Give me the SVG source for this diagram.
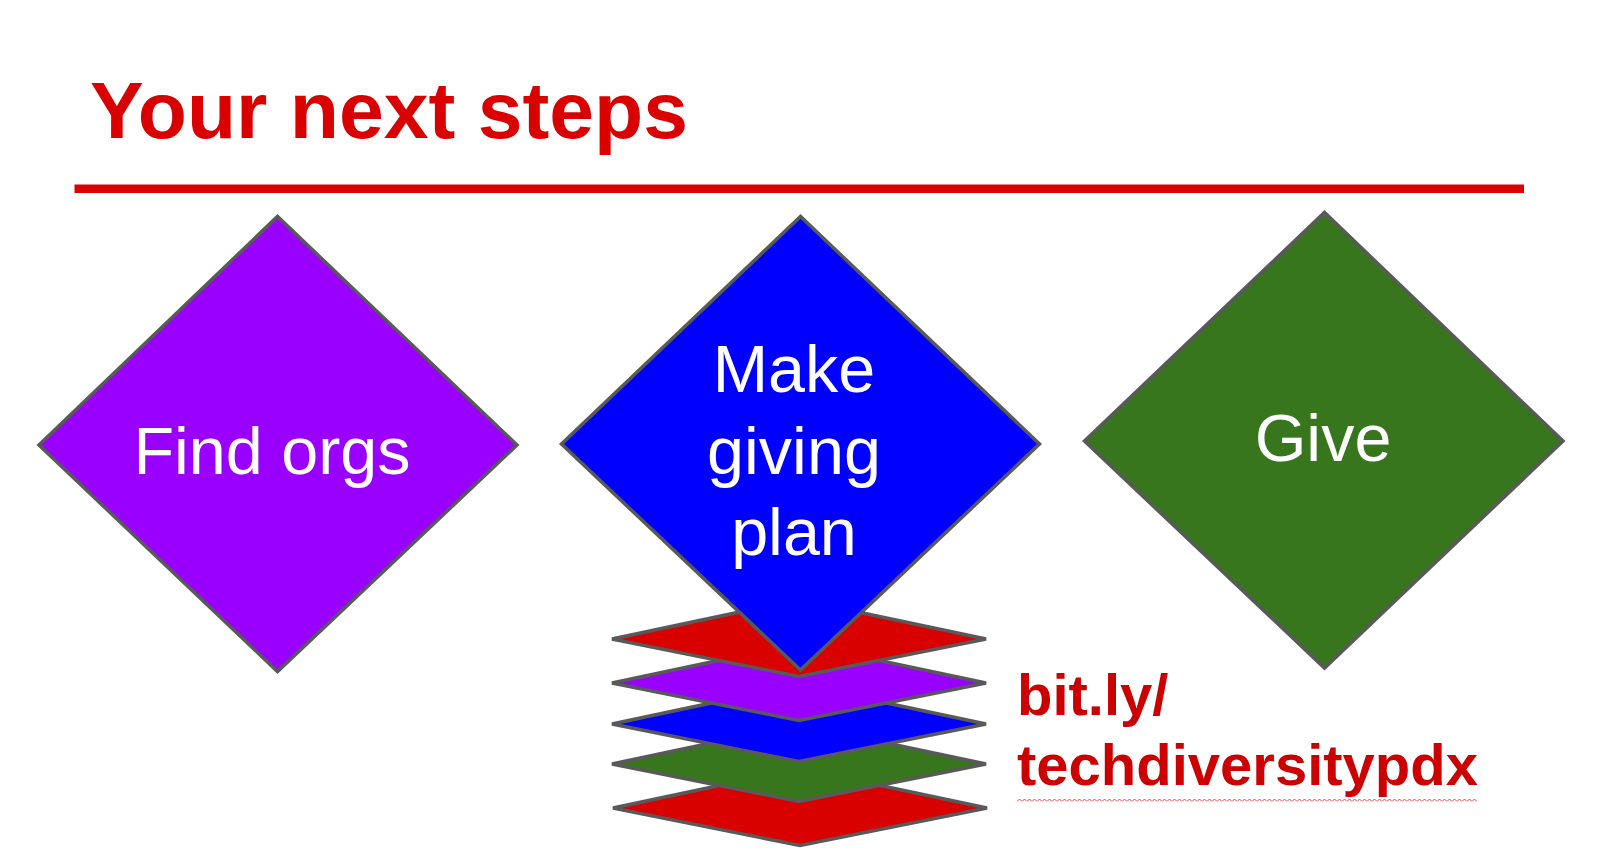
<svg xmlns="http://www.w3.org/2000/svg" width="1600" height="862" viewBox="0 0 1600 862">
<style>
text{font-family:"Liberation Sans",Arial,sans-serif}
.d{stroke:#595959;stroke-width:3.500;stroke-linejoin:miter}
.l{fill:#fff;font-size:66.500px;text-anchor:middle}
.r{fill:#cc0000;font-size:58px;font-weight:bold}
</style>
<defs>
<pattern id="squiggle" x="1017" y="798" width="5" height="5" patternUnits="userSpaceOnUse"><path d="M0 3.500L2.500 1 5 3.500" fill="none" stroke="#e5404a" stroke-width="1"/></pattern>
</defs>
<rect width="1600" height="862" fill="#fff"/>
<text id="title" x="90" y="138" font-size="80.500" font-weight="bold" fill="#d90000">Your next steps</text>
<rect id="rule" x="74.500" y="184.500" width="1449.500" height="8.500" fill="#d90000"/>
<g id="stack-red-bottom"><polygon class="d" fill="#d90000" points="613,808 800,768.500 987,808 800,845.500"/></g>
<g id="stack-green"><polygon class="d" fill="#38761d" points="612,764 799,724.500 986,764 799,801.500"/></g>
<g id="stack-blue"><polygon class="d" fill="#0000ff" points="612,724 799,684.500 986,724 799,761.500"/></g>
<g id="stack-purple"><polygon class="d" fill="#9900ff" points="612,683 799,643.500 986,683 799,720.500"/></g>
<g id="stack-red-top"><polygon class="d" fill="#d90000" points="612,639 799,599.500 986,639 799,676.500"/></g>
<g id="find-orgs"><polygon class="d" fill="#9900ff" points="39,445 277.500,216.500 517,445 277.500,671.500"/><text class="l" x="272" y="474">Find orgs</text></g>
<g id="make-plan"><polygon class="d" fill="#0000ff" points="561.500,444 800.500,216.500 1039.500,444 800.500,670"/><text class="l" x="794" y="392">Make</text><text class="l" x="794" y="474">giving</text><text class="l" x="794" y="555">plan</text></g>
<g id="give"><polygon class="d" fill="#38761d" points="1084.500,441 1324.500,212.500 1563,441 1324.500,668"/><text class="l" x="1323" y="461">Give</text></g>
<g id="link"><text class="r" x="1017" y="715">bit.ly/</text><text class="r" x="1017" y="785">techdiversitypdx</text>
<rect x="1017" y="798" width="460" height="5" fill="url(#squiggle)"/></g>
</svg>
